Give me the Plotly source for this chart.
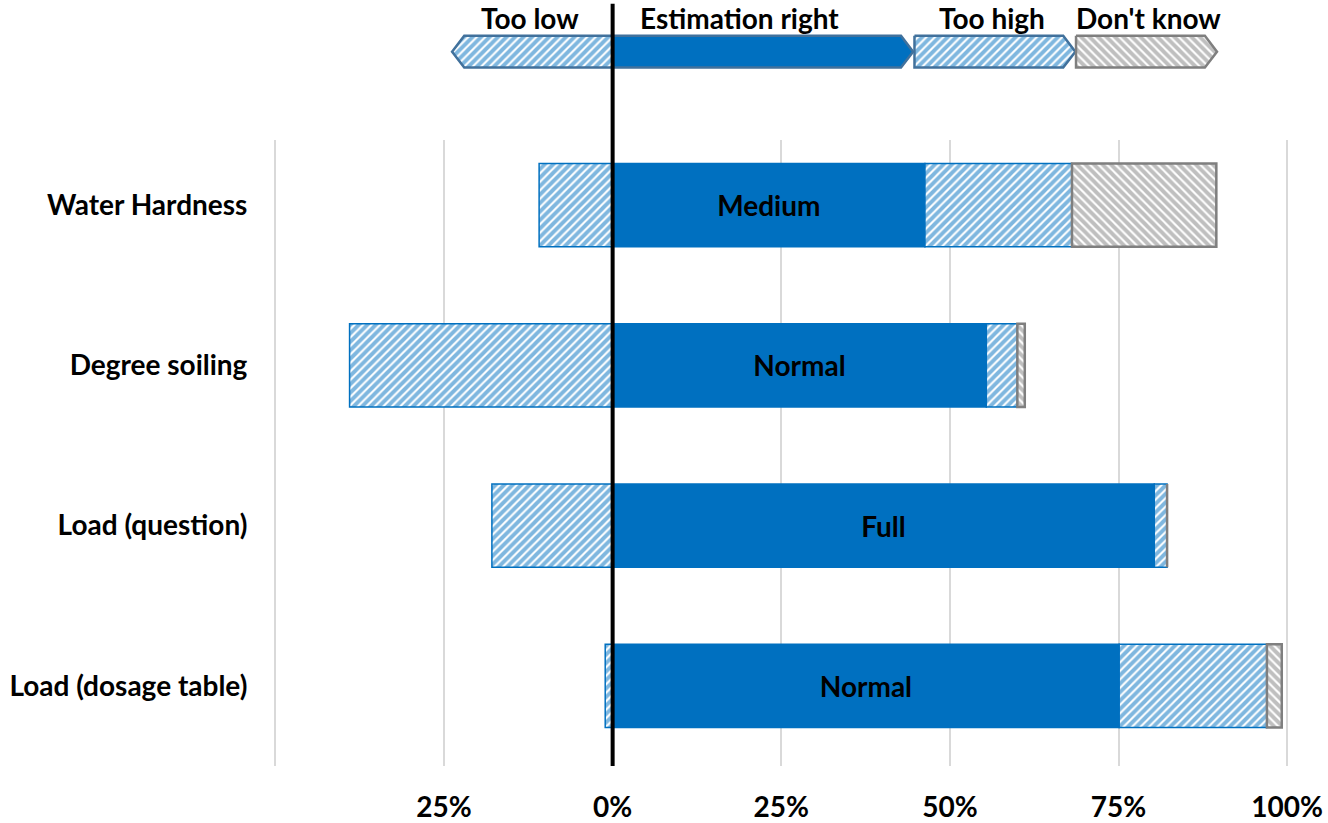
import plotly.graph_objects as go

# survey items, top to bottom
items = ["Water Hardness", "Degree soiling", "Load (question)", "Load (dosage table)"]
right_labels = ["Medium", "Normal", "Full", "Normal"]

# shares in %
too_low = [10.9, 39.0, 17.9, 1.1]
est_right = [46.3, 55.4, 80.3, 75.1]
too_high = [21.8, 4.6, 1.9, 21.9]
dont_know = [21.4, 1.1, 0.0, 2.2]

tick_vals = [-50, -25, 0, 25, 50, 75, 100]
tick_text = ["", "25%", "0%", "25%", "50%", "75%", "100%"]

# header arrows (in % of the x axis)
legend_names = ["Too low", "Estimation right", "Too high", "Don't know"]
legend_start = [-23.8, 0.0, 44.75, 68.7]
legend_end = [0.0, 44.55, 68.6, 89.6]
legend_text_x = [-12.2, 18.75, 56.3, 79.5]

BLUE = "#0070C0"
GREY = "#7F7F7F"
EDGE = "#41719C"
FONT = dict(family="Lato", size=28, color="black", weight="bold")

hatch_blue = dict(shape="/", fgcolor=BLUE, bgcolor="white", size=6, solidity=0.65)
hatch_grey = dict(shape="\\", fgcolor=GREY, bgcolor="white", size=6, solidity=0.65)

fig = go.Figure()
bar_w = 0.52

fig.add_trace(go.Bar(
    y=items, x=[-v for v in too_low], orientation="h", width=bar_w,
    marker=dict(color="white", line=dict(color=BLUE, width=1.5), pattern=hatch_blue),
    showlegend=False, hoverinfo="skip"))
fig.add_trace(go.Bar(
    y=items, x=est_right, orientation="h", width=bar_w,
    text=right_labels, textposition="inside", insidetextanchor="middle",
    textangle=0, textfont=FONT, constraintext="none",
    marker=dict(color=BLUE, line=dict(color=BLUE, width=1.5)),
    showlegend=False, hoverinfo="skip"))
fig.add_trace(go.Bar(
    y=items, x=too_high, orientation="h", width=bar_w,
    marker=dict(color="white", line=dict(color=BLUE, width=1.5), pattern=hatch_blue),
    showlegend=False, hoverinfo="skip"))
fig.add_trace(go.Bar(
    y=items, x=dont_know, orientation="h", width=bar_w,
    marker=dict(color="white", line=dict(color=GREY, width=2.5), pattern=hatch_grey),
    showlegend=False, hoverinfo="skip"))

# arrow shaped header, drawn on a small axis on top
a_top, a_bot, a_mid, tip = 36, 68, 52, 1.8
for i, name in enumerate(legend_names):
    s, e = legend_start[i], legend_end[i]
    if i == 0:
        xs = [e, s + tip, s, s + tip, e, e]
    else:
        xs = [s, e - tip, e, e - tip, s, s]
    ys = [a_top, a_top, a_mid, a_bot, a_bot, a_top]
    if i == 1:
        fill = dict(fillcolor=BLUE)
        edge = EDGE
    elif i == 3:
        fill = dict(fillcolor="white", fillpattern=hatch_grey)
        edge = GREY
    else:
        fill = dict(fillcolor="white", fillpattern=hatch_blue)
        edge = EDGE
    fig.add_trace(go.Scatter(
        x=xs, y=ys, xaxis="x2", yaxis="y2", mode="lines", fill="toself",
        line=dict(color=edge, width=2.5), showlegend=False, hoverinfo="skip", **fill))
    fig.add_annotation(x=legend_text_x[i], y=18, xref="x2", yref="y2", text=name,
                       showarrow=False, font=FONT, borderpad=0)

# zero line through bars and header
fig.add_shape(type="line", x0=0, x1=0, xref="x", yref="paper", y0=0, y1=0.995,
              line=dict(color="black", width=4))

fig.update_layout(
    width=1328, height=823,
    margin=dict(l=272, r=37, t=0, b=52),
    plot_bgcolor="white", paper_bgcolor="white",
    barmode="relative",
    xaxis=dict(range=[-50.5, 100.57], tickvals=tick_vals, ticktext=tick_text,
               showgrid=True, gridcolor="#D9D9D9", gridwidth=1.5, zeroline=False,
               showline=False, ticks="outside", ticklen=16, tickcolor="rgba(0,0,0,0)",
               tickfont=FONT),
    yaxis=dict(domain=[0, 0.8171], categoryorder="array", categoryarray=items[::-1],
               range=[-0.5, 3.406], showgrid=False, zeroline=False, showline=False,
               ticks="outside", ticklen=18, tickcolor="rgba(0,0,0,0)", tickfont=FONT),
    xaxis2=dict(matches="x", anchor="y2", visible=False, showgrid=False),
    yaxis2=dict(domain=[0.86, 1], range=[107.9, 0], visible=False, showgrid=False),
)

# drop the browser's default page margin so the figure sits at the corner
fig.write_html("out.html", config={"displayModeBar": False},
               post_script="document.body.style.margin='0';")
